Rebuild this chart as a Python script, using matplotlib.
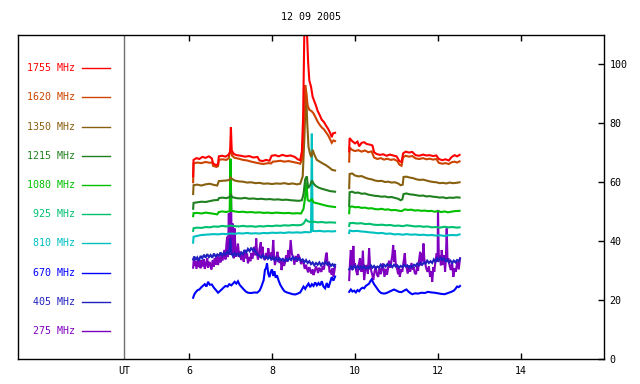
import matplotlib
matplotlib.use("Agg")
import matplotlib.pyplot as plt
import numpy as np

# ── data: (UT hour, flux) ────────────────────────────────────────────────────
LABELS = ["1755 MHz", "1620 MHz", "1350 MHz", "1215 MHz", "1080 MHz",
          "925 MHz", "810 MHz", "670 MHz", "405 MHz", "275 MHz"]
COLORS = ["#ff0000", "#cc4400", "#886010", "#208020", "#00c000",
          "#00c070", "#00c0c0", "#0000ff", "#2020c0", "#8000c0"]

F1755 = [(6.10, 62.0), (6.11, 67.6), (6.18, 68.2), (6.25, 67.9), (6.32, 68.6), (6.40, 68.3),
         (6.48, 68.8), (6.55, 68.1), (6.58, 66.4), (6.65, 65.8), (6.70, 66.2), (6.72, 68.8),
         (6.80, 69.0), (6.88, 68.7), (6.95, 69.3), (6.99, 70.2), (7.01, 78.7), (7.03, 70.8),
         (7.08, 69.6), (7.15, 69.2), (7.25, 69.0), (7.35, 68.7), (7.45, 68.9), (7.55, 68.4),
         (7.65, 68.6), (7.70, 67.4), (7.78, 67.2), (7.86, 67.6), (7.94, 67.3), (7.99, 69.0),
         (8.08, 69.2), (8.16, 68.8), (8.25, 69.3), (8.35, 68.9), (8.45, 69.1), (8.55, 68.6),
         (8.62, 67.8), (8.68, 67.5), (8.72, 70.5), (8.75, 82.0), (8.78, 112.0), (8.84, 112.0),
         (8.87, 101.0), (8.90, 94.5), (8.94, 92.5), (8.98, 89.0), (9.02, 87.5), (9.06, 86.0),
         (9.10, 84.2), (9.15, 82.8), (9.20, 81.2), (9.25, 80.5), (9.30, 79.3), (9.35, 78.2),
         (9.40, 76.8), (9.44, 75.3), (9.47, 76.6), (9.52, 76.8),
         (9.86, 70.5), (9.87, 75.0), (9.93, 74.0), (10.00, 73.2), (10.06, 73.8), (10.10, 72.2),
         (10.16, 73.4), (10.22, 73.6), (10.28, 73.0), (10.35, 72.8), (10.42, 72.5), (10.46, 70.2),
         (10.52, 69.6), (10.60, 69.3), (10.68, 69.5), (10.76, 69.0), (10.84, 69.4), (10.92, 69.1),
         (11.00, 68.8), (11.07, 67.2), (11.12, 66.8), (11.16, 69.8), (11.22, 70.4), (11.30, 70.1),
         (11.38, 70.3), (11.46, 69.2), (11.55, 69.0), (11.64, 69.4), (11.72, 69.1), (11.80, 69.2),
         (11.88, 68.9), (11.96, 69.1), (12.02, 67.9), (12.10, 67.5), (12.18, 67.8), (12.26, 67.4),
         (12.33, 68.6), (12.40, 69.2), (12.46, 68.8), (12.52, 69.3)]

F1620 = [(6.10, 60.0), (6.11, 66.4), (6.20, 66.7), (6.30, 66.5), (6.40, 66.9), (6.50, 66.6),
         (6.56, 66.8), (6.58, 65.6), (6.66, 65.2), (6.70, 65.5), (6.72, 67.6), (6.80, 67.8),
         (6.90, 67.6), (6.96, 68.2), (7.00, 71.6), (7.04, 69.0), (7.10, 68.3), (7.20, 68.0),
         (7.30, 67.6), (7.40, 67.4), (7.50, 67.0), (7.60, 66.7), (7.70, 66.4), (7.80, 66.2),
         (7.90, 66.5), (7.98, 66.4), (8.02, 67.0), (8.10, 67.1), (8.20, 67.3), (8.30, 67.0),
         (8.40, 67.2), (8.50, 66.9), (8.60, 66.6), (8.68, 66.3), (8.73, 68.0), (8.77, 80.0),
         (8.80, 93.0), (8.83, 90.0), (8.86, 86.0), (8.90, 84.6), (8.95, 84.2), (9.00, 83.4),
         (9.05, 82.0), (9.10, 80.6), (9.15, 79.5), (9.20, 78.6), (9.25, 78.0), (9.30, 77.0),
         (9.35, 76.0), (9.40, 74.6), (9.44, 73.4), (9.48, 74.2), (9.52, 74.0),
         (9.86, 67.0), (9.87, 71.8), (9.93, 71.0), (10.00, 70.6), (10.08, 70.9), (10.16, 70.4),
         (10.24, 70.8), (10.32, 70.2), (10.40, 70.5), (10.46, 68.4), (10.54, 67.9), (10.62, 68.2),
         (10.70, 67.7), (10.78, 68.0), (10.86, 67.6), (10.94, 67.8), (11.02, 67.2), (11.07, 66.0),
         (11.12, 65.6), (11.16, 68.5), (11.22, 69.0), (11.30, 68.7), (11.38, 68.9), (11.46, 68.1),
         (11.55, 67.9), (11.64, 68.2), (11.72, 67.8), (11.80, 68.0), (11.88, 67.7), (11.96, 67.9),
         (12.02, 66.6), (12.10, 66.3), (12.18, 66.5), (12.26, 66.2), (12.33, 66.8), (12.40, 67.0),
         (12.46, 66.7), (12.52, 67.1)]

F1350 = [(6.10, 56.0), (6.11, 59.0), (6.20, 59.2), (6.30, 58.9), (6.40, 59.3), (6.50, 59.5),
         (6.60, 59.1), (6.68, 58.9), (6.72, 60.4), (6.80, 60.5), (6.90, 60.6), (6.97, 60.8),
         (7.00, 61.6), (7.05, 61.0), (7.10, 60.6), (7.20, 60.3), (7.30, 60.2), (7.40, 59.9),
         (7.50, 60.0), (7.60, 59.7), (7.70, 59.8), (7.80, 59.5), (7.90, 59.6), (8.00, 59.4),
         (8.10, 59.6), (8.20, 59.5), (8.30, 59.7), (8.40, 59.4), (8.50, 59.6), (8.60, 59.3),
         (8.68, 59.5), (8.74, 62.0), (8.78, 75.0), (8.82, 91.0), (8.85, 80.0), (8.88, 72.0),
         (8.92, 69.5), (8.95, 68.6), (8.98, 71.0), (9.02, 69.4), (9.08, 67.6), (9.15, 67.0),
         (9.22, 66.4), (9.30, 65.8), (9.38, 65.0), (9.45, 64.2), (9.52, 64.0),
         (9.86, 58.0), (9.87, 62.8), (9.93, 63.0), (10.00, 62.3), (10.08, 62.0), (10.16, 62.1),
         (10.24, 61.6), (10.32, 61.2), (10.40, 61.0), (10.48, 60.6), (10.56, 60.4), (10.64, 60.5),
         (10.72, 60.1), (10.80, 60.2), (10.88, 59.9), (10.96, 60.0), (11.04, 59.6), (11.10, 59.0),
         (11.15, 59.2), (11.17, 61.8), (11.24, 61.9), (11.32, 61.6), (11.40, 61.4), (11.48, 61.0),
         (11.56, 60.8), (11.64, 60.9), (11.72, 60.6), (11.80, 60.3), (11.88, 60.1), (11.96, 60.0),
         (12.04, 59.7), (12.12, 59.8), (12.20, 59.6), (12.28, 59.9), (12.36, 59.7), (12.44, 59.8),
         (12.52, 60.0)]

F1215 = [(6.10, 51.0), (6.11, 53.0), (6.20, 53.2), (6.30, 53.4), (6.40, 53.3), (6.50, 53.6),
         (6.60, 53.9), (6.70, 54.0), (6.72, 54.6), (6.80, 54.8), (6.90, 54.6), (6.98, 55.0),
         (7.01, 55.6), (7.05, 54.9), (7.15, 54.6), (7.25, 54.5), (7.35, 54.7), (7.45, 54.4),
         (7.55, 54.5), (7.65, 54.3), (7.75, 54.4), (7.85, 54.2), (7.95, 54.3), (8.05, 54.1),
         (8.15, 54.2), (8.25, 54.0), (8.35, 54.1), (8.45, 53.9), (8.55, 53.8), (8.65, 53.7),
         (8.72, 53.9), (8.76, 56.0), (8.80, 61.0), (8.84, 62.0), (8.87, 58.0), (8.92, 59.0),
         (8.96, 60.6), (9.00, 59.6), (9.05, 58.8), (9.12, 58.2), (9.20, 57.8), (9.30, 57.4),
         (9.40, 57.0), (9.52, 56.8),
         (9.86, 52.0), (9.87, 56.6), (9.93, 56.8), (10.00, 56.4), (10.08, 56.5), (10.16, 56.1),
         (10.24, 56.2), (10.32, 55.8), (10.40, 55.6), (10.48, 55.4), (10.56, 55.3), (10.64, 55.1),
         (10.72, 55.2), (10.80, 54.9), (10.88, 55.0), (10.96, 54.7), (11.04, 54.4), (11.10, 53.9),
         (11.14, 54.2), (11.17, 56.0), (11.24, 56.2), (11.32, 55.9), (11.40, 55.8), (11.48, 55.6),
         (11.56, 55.4), (11.64, 55.5), (11.72, 55.2), (11.80, 55.3), (11.88, 55.1), (11.96, 55.0),
         (12.04, 54.8), (12.12, 54.9), (12.20, 54.6), (12.28, 54.8), (12.36, 54.7), (12.44, 54.9),
         (12.52, 54.8)]

F1080 = [(6.10, 48.5), (6.11, 49.5), (6.20, 49.6), (6.30, 49.4), (6.40, 49.7), (6.50, 49.5),
         (6.60, 49.3), (6.68, 49.1), (6.72, 49.9), (6.80, 50.1), (6.90, 49.9), (6.98, 50.2),
         (7.00, 68.0), (7.02, 50.4), (7.10, 50.1), (7.20, 49.9), (7.30, 50.0), (7.40, 49.8),
         (7.50, 49.9), (7.60, 49.7), (7.70, 49.8), (7.80, 49.6), (7.90, 49.7), (8.00, 49.5),
         (8.10, 49.7), (8.20, 49.6), (8.30, 49.5), (8.40, 49.6), (8.50, 49.4), (8.60, 49.5),
         (8.70, 49.4), (8.76, 51.0), (8.80, 55.0), (8.83, 60.0), (8.86, 54.0), (8.90, 53.6),
         (8.96, 54.2), (9.00, 53.2), (9.08, 52.9), (9.16, 52.6), (9.24, 52.3), (9.32, 52.0),
         (9.40, 51.8), (9.52, 51.6),
         (9.86, 49.5), (9.87, 51.6), (9.93, 51.8), (10.00, 51.5), (10.08, 51.6), (10.16, 51.3),
         (10.24, 51.4), (10.32, 51.1), (10.40, 51.2), (10.48, 50.9), (10.56, 50.8), (10.64, 51.0),
         (10.72, 50.7), (10.80, 50.8), (10.88, 50.5), (10.96, 50.6), (11.04, 50.4), (11.12, 50.2),
         (11.20, 50.8), (11.28, 50.6), (11.36, 50.7), (11.44, 50.4), (11.52, 50.5), (11.60, 50.3),
         (11.68, 50.4), (11.76, 50.2), (11.84, 50.3), (11.92, 50.0), (12.00, 50.2), (12.08, 49.9),
         (12.16, 50.1), (12.24, 49.8), (12.32, 50.0), (12.40, 50.2), (12.52, 50.3)]

F925 = [(6.10, 43.5), (6.11, 44.4), (6.20, 44.6), (6.30, 44.5), (6.40, 44.8), (6.50, 44.7),
        (6.60, 45.0), (6.70, 44.9), (6.80, 45.2), (6.90, 45.0), (7.00, 45.3), (7.10, 45.1),
        (7.20, 45.0), (7.30, 45.2), (7.40, 45.0), (7.50, 45.1), (7.60, 44.9), (7.70, 45.1),
        (7.80, 45.0), (7.90, 45.2), (8.00, 45.1), (8.10, 45.3), (8.20, 45.2), (8.30, 45.4),
        (8.40, 45.3), (8.50, 45.5), (8.60, 45.4), (8.70, 45.5), (8.76, 46.0), (8.82, 47.3),
        (8.86, 46.8), (8.92, 46.5), (9.00, 46.6), (9.10, 46.4), (9.20, 46.5), (9.30, 46.3),
        (9.40, 46.4), (9.52, 46.3),
        (9.86, 45.2), (9.87, 46.1), (9.95, 46.2), (10.05, 46.0), (10.15, 46.1), (10.25, 45.8),
        (10.35, 45.9), (10.45, 45.6), (10.55, 45.5), (10.65, 45.6), (10.75, 45.4), (10.85, 45.5),
        (10.95, 45.2), (11.05, 45.3), (11.15, 45.1), (11.25, 45.4), (11.35, 45.2), (11.45, 45.0),
        (11.55, 45.1), (11.65, 44.9), (11.75, 45.0), (11.85, 44.7), (11.95, 44.8), (12.05, 44.6),
        (12.15, 44.9), (12.25, 44.7), (12.35, 44.8), (12.45, 44.6), (12.52, 44.7)]

F810 = [(6.10, 39.5), (6.11, 41.5), (6.20, 41.8), (6.30, 42.1), (6.40, 42.2), (6.50, 42.3),
        (6.60, 42.4), (6.70, 42.3), (6.80, 42.5), (6.90, 42.4), (7.00, 42.6), (7.10, 42.5),
        (7.20, 42.7), (7.30, 42.6), (7.40, 42.8), (7.50, 42.6), (7.60, 42.7), (7.70, 42.6),
        (7.80, 42.8), (7.90, 42.7), (8.00, 42.9), (8.10, 42.8), (8.20, 42.9), (8.30, 42.8),
        (8.40, 43.0), (8.50, 42.9), (8.60, 43.0), (8.70, 42.9), (8.80, 43.1), (8.90, 43.0),
        (8.94, 43.2), (8.96, 76.5), (8.98, 43.5), (9.05, 43.4), (9.15, 43.5), (9.25, 43.3),
        (9.35, 43.4), (9.45, 43.3), (9.52, 43.4),
        (9.86, 42.8), (9.87, 43.6), (9.95, 43.4), (10.05, 43.5), (10.15, 43.3), (10.25, 43.2),
        (10.35, 43.0), (10.45, 42.9), (10.55, 42.7), (10.65, 42.8), (10.75, 42.5), (10.85, 42.6),
        (10.95, 42.3), (11.05, 42.4), (11.15, 42.2), (11.25, 42.4), (11.35, 42.2), (11.45, 42.3),
        (11.55, 42.1), (11.65, 42.2), (11.75, 42.0), (11.85, 42.1), (11.95, 41.9), (12.05, 42.0),
        (12.15, 41.8), (12.25, 42.0), (12.35, 42.1), (12.45, 42.0), (12.52, 42.3)]

F670 = [(6.10, 20.8), (6.13, 22.0), (6.17, 22.8), (6.21, 23.4), (6.25, 23.6), (6.30, 24.4),
        (6.34, 24.9), (6.38, 25.4), (6.42, 24.6), (6.46, 26.2), (6.50, 25.2), (6.55, 25.3),
        (6.60, 24.2), (6.65, 23.4), (6.70, 22.5), (6.74, 23.0), (6.78, 23.5), (6.83, 24.2),
        (6.88, 24.8), (6.93, 24.6), (6.97, 25.4), (7.02, 25.0), (7.06, 25.6), (7.10, 26.2),
        (7.14, 25.6), (7.18, 26.4), (7.22, 25.2), (7.27, 24.4), (7.32, 23.6), (7.37, 22.9),
        (7.42, 22.5), (7.50, 22.4), (7.58, 22.6), (7.64, 22.5), (7.70, 23.2), (7.74, 24.4),
        (7.77, 25.6), (7.80, 26.8), (7.83, 30.2), (7.86, 31.0), (7.88, 32.5), (7.91, 29.0),
        (7.94, 27.8), (7.97, 29.6), (8.00, 30.4), (8.03, 28.2), (8.06, 29.8), (8.09, 27.6),
        (8.12, 28.4), (8.16, 26.6), (8.20, 25.2), (8.25, 24.0), (8.30, 23.0), (8.36, 22.6),
        (8.43, 22.3), (8.50, 22.0), (8.56, 21.9), (8.62, 22.2), (8.68, 22.6), (8.72, 23.6),
        (8.76, 24.6), (8.80, 23.8), (8.84, 24.8), (8.88, 25.6), (8.92, 24.4), (8.96, 25.4),
        (9.00, 24.8), (9.04, 26.0), (9.08, 25.0), (9.12, 25.8), (9.16, 25.0), (9.20, 26.4),
        (9.24, 24.6), (9.28, 24.0), (9.32, 25.8), (9.36, 24.2), (9.40, 26.0), (9.44, 27.8),
        (9.48, 26.6), (9.52, 28.0),
        (9.86, 22.8), (9.90, 23.6), (9.94, 22.9), (9.98, 23.2), (10.02, 22.6), (10.06, 23.4),
        (10.10, 23.0), (10.14, 23.8), (10.18, 24.2), (10.22, 24.0), (10.26, 24.8), (10.30, 25.2),
        (10.34, 25.6), (10.37, 26.4), (10.40, 27.0), (10.43, 26.2), (10.46, 25.4), (10.50, 24.6),
        (10.54, 23.8), (10.58, 23.0), (10.63, 22.4), (10.70, 22.2), (10.76, 22.4), (10.82, 22.8),
        (10.88, 23.2), (10.94, 23.6), (11.00, 23.2), (11.06, 22.8), (11.12, 22.7), (11.18, 23.2),
        (11.24, 23.6), (11.28, 23.0), (11.33, 22.4), (11.38, 22.0), (11.45, 22.3), (11.52, 22.2),
        (11.60, 22.5), (11.68, 22.4), (11.76, 22.8), (11.84, 22.6), (11.92, 22.5), (12.00, 22.3),
        (12.08, 22.1), (12.16, 22.0), (12.24, 22.4), (12.32, 22.8), (12.38, 23.2), (12.42, 23.8),
        (12.46, 24.6), (12.50, 24.4), (12.53, 24.8)]

F405 = [(6.10, 33.8), (6.13, 34.8), (6.16, 33.6), (6.20, 34.5), (6.24, 33.4), (6.28, 35.0),
        (6.32, 34.2), (6.36, 35.4), (6.40, 34.4), (6.44, 35.6), (6.48, 34.6), (6.52, 35.3),
        (6.56, 34.4), (6.60, 35.8), (6.64, 34.8), (6.68, 35.5), (6.72, 35.0), (6.76, 36.2),
        (6.80, 35.2), (6.84, 36.0), (6.88, 35.4), (6.92, 36.4), (6.96, 35.6), (7.00, 41.0),
        (7.02, 35.8), (7.06, 35.0), (7.10, 36.0), (7.14, 35.2), (7.18, 35.8), (7.22, 35.0),
        (7.26, 36.2), (7.30, 35.6), (7.34, 37.0), (7.38, 36.2), (7.42, 37.4), (7.46, 36.6),
        (7.50, 37.8), (7.54, 36.8), (7.58, 37.2), (7.62, 36.0), (7.66, 35.4), (7.70, 35.0),
        (7.74, 34.4), (7.78, 35.2), (7.82, 34.2), (7.86, 34.8), (7.90, 34.0), (7.94, 34.8),
        (7.98, 33.8), (8.02, 34.6), (8.06, 33.6), (8.10, 34.4), (8.14, 33.4), (8.18, 34.2),
        (8.22, 33.5), (8.26, 34.0), (8.30, 33.2), (8.34, 34.0), (8.38, 33.4), (8.42, 34.2),
        (8.46, 33.6), (8.50, 34.6), (8.54, 33.8), (8.58, 34.4), (8.62, 33.6), (8.66, 34.2),
        (8.70, 33.4), (8.74, 33.8), (8.78, 32.8), (8.82, 33.6), (8.86, 32.6), (8.90, 33.2),
        (8.94, 32.2), (8.98, 32.8), (9.02, 31.8), (9.06, 32.6), (9.10, 32.0), (9.14, 32.8),
        (9.18, 31.8), (9.22, 32.6), (9.26, 32.2), (9.30, 33.0), (9.34, 32.0), (9.38, 32.6),
        (9.42, 31.6), (9.46, 32.2), (9.50, 31.4), (9.52, 32.0),
        (9.86, 30.4), (9.90, 31.4), (9.94, 30.6), (9.98, 31.6), (10.02, 30.8), (10.06, 31.5),
        (10.10, 30.6), (10.14, 31.4), (10.18, 30.8), (10.22, 31.6), (10.26, 30.6), (10.30, 31.2),
        (10.34, 30.8), (10.38, 31.8), (10.42, 31.0), (10.46, 31.6), (10.50, 30.8), (10.54, 31.4),
        (10.58, 31.0), (10.62, 32.0), (10.66, 31.2), (10.70, 32.0), (10.74, 31.4), (10.78, 32.2),
        (10.82, 31.6), (10.86, 32.0), (10.90, 31.2), (10.94, 32.0), (10.98, 31.4), (11.02, 31.8),
        (11.06, 31.0), (11.10, 31.6), (11.14, 31.2), (11.18, 32.0), (11.22, 31.4), (11.26, 31.8),
        (11.30, 31.0), (11.34, 31.6), (11.38, 31.2), (11.42, 32.0), (11.46, 31.6), (11.50, 32.4),
        (11.54, 31.8), (11.58, 32.6), (11.62, 32.0), (11.66, 32.8), (11.70, 32.4), (11.74, 33.4),
        (11.78, 32.6), (11.82, 33.2), (11.86, 32.6), (11.90, 33.8), (11.94, 33.0), (11.98, 34.2),
        (12.02, 33.4), (12.06, 34.6), (12.10, 33.6), (12.14, 34.2), (12.18, 33.2), (12.22, 33.8),
        (12.26, 32.8), (12.30, 33.4), (12.34, 32.6), (12.38, 33.4), (12.42, 32.8), (12.46, 33.6),
        (12.50, 33.2), (12.53, 34.0)]

F275 = [(6.10, 31.0), (6.12, 34.7), (6.14, 31.6), (6.16, 33.2), (6.18, 30.6), (6.20, 32.4),
        (6.22, 34.0), (6.24, 31.2), (6.26, 33.4), (6.28, 30.8), (6.30, 33.6), (6.33, 31.4),
        (6.36, 33.8), (6.38, 30.6), (6.41, 32.2), (6.44, 34.2), (6.46, 31.0), (6.49, 33.0),
        (6.52, 31.8), (6.54, 30.4), (6.57, 33.6), (6.60, 31.4), (6.62, 34.2), (6.65, 32.0),
        (6.68, 35.0), (6.70, 31.9), (6.73, 34.6), (6.76, 32.8), (6.78, 35.3), (6.81, 33.4),
        (6.84, 36.2), (6.86, 37.0), (6.88, 33.8), (6.90, 38.6), (6.92, 41.5), (6.94, 34.6),
        (6.96, 49.4), (6.98, 35.4), (6.99, 44.0), (7.01, 59.7), (7.03, 36.2), (7.05, 46.0),
        (7.06, 36.0), (7.08, 34.2), (7.10, 44.3), (7.12, 36.4), (7.14, 34.7), (7.16, 37.0),
        (7.18, 39.2), (7.21, 34.6), (7.24, 36.4), (7.26, 33.6), (7.29, 35.8), (7.32, 33.0),
        (7.34, 37.0), (7.37, 34.2), (7.40, 35.8), (7.42, 32.5), (7.45, 34.6), (7.48, 33.2),
        (7.50, 36.0), (7.53, 34.0), (7.56, 36.8), (7.58, 38.1), (7.60, 35.2), (7.62, 40.9),
        (7.64, 36.0), (7.66, 33.8), (7.68, 34.7), (7.70, 37.4), (7.73, 39.6), (7.75, 35.0),
        (7.77, 38.1), (7.80, 34.2), (7.83, 33.6), (7.86, 36.0), (7.89, 34.0), (7.91, 37.6),
        (7.94, 34.8), (7.97, 36.1), (8.00, 33.6), (8.03, 40.4), (8.05, 35.0), (8.07, 31.9),
        (8.10, 33.8), (8.13, 36.4), (8.15, 34.7), (8.18, 32.6), (8.21, 34.0), (8.23, 30.2),
        (8.26, 33.4), (8.29, 31.6), (8.31, 32.5), (8.34, 35.2), (8.37, 33.0), (8.39, 37.0),
        (8.42, 34.4), (8.45, 40.4), (8.48, 35.6), (8.51, 34.7), (8.54, 32.0), (8.57, 35.0),
        (8.60, 33.0), (8.63, 35.6), (8.67, 34.2), (8.70, 32.2), (8.73, 33.8), (8.76, 32.5),
        (8.79, 30.6), (8.82, 32.0), (8.84, 30.8), (8.87, 29.4), (8.90, 31.2), (8.92, 30.2),
        (8.95, 29.0), (8.98, 30.4), (9.00, 28.5), (9.03, 29.8), (9.06, 31.4), (9.08, 30.8),
        (9.11, 29.2), (9.14, 31.0), (9.16, 30.2), (9.19, 29.6), (9.22, 31.6), (9.25, 30.4),
        (9.28, 33.4), (9.30, 35.2), (9.32, 36.1), (9.34, 31.8), (9.36, 33.0), (9.39, 29.4),
        (9.41, 30.2), (9.44, 28.6), (9.46, 30.8), (9.48, 27.9), (9.50, 29.6), (9.52, 31.3),
        (9.86, 26.8), (9.88, 33.0), (9.90, 37.0), (9.92, 31.0), (9.94, 30.2), (9.96, 38.4),
        (9.98, 31.4), (10.00, 32.5), (10.03, 29.8), (10.06, 28.5), (10.09, 32.0), (10.12, 34.2),
        (10.14, 30.4), (10.16, 29.6), (10.19, 36.8), (10.22, 26.8), (10.25, 30.6), (10.28, 31.9),
        (10.31, 29.0), (10.34, 37.6), (10.36, 32.4), (10.39, 30.0), (10.42, 28.4), (10.44, 26.8),
        (10.47, 29.6), (10.50, 31.3), (10.53, 28.6), (10.56, 27.9), (10.59, 31.0), (10.62, 28.8),
        (10.64, 30.2), (10.67, 32.4), (10.71, 27.9), (10.74, 30.6), (10.77, 28.6), (10.79, 30.2),
        (10.82, 33.4), (10.85, 31.0), (10.87, 32.5), (10.90, 35.4), (10.92, 38.7), (10.94, 33.0),
        (10.96, 37.0), (10.98, 32.6), (11.01, 30.8), (11.04, 28.8), (11.06, 31.2), (11.08, 27.9),
        (11.11, 30.4), (11.14, 29.6), (11.17, 33.0), (11.20, 35.9), (11.22, 32.0), (11.24, 31.3),
        (11.27, 29.0), (11.30, 31.8), (11.33, 29.6), (11.36, 32.6), (11.39, 30.4), (11.41, 31.3),
        (11.44, 29.2), (11.47, 28.8), (11.50, 31.6), (11.52, 30.0), (11.54, 33.0), (11.57, 36.4),
        (11.59, 31.8), (11.61, 35.9), (11.63, 33.2), (11.65, 39.2), (11.67, 34.0), (11.69, 32.5),
        (11.72, 30.6), (11.75, 29.6), (11.78, 31.4), (11.81, 27.9), (11.84, 29.8), (11.86, 26.2),
        (11.89, 31.2), (11.91, 29.6), (11.94, 33.4), (11.97, 35.9), (11.99, 33.0), (12.00, 50.6),
        (12.02, 34.6), (12.05, 35.0), (12.07, 31.8), (12.09, 37.0), (12.11, 33.6), (12.13, 31.9),
        (12.15, 35.2), (12.17, 29.6), (12.19, 33.8), (12.21, 44.3), (12.23, 33.0), (12.25, 34.2),
        (12.28, 31.6), (12.31, 30.2), (12.34, 32.8), (12.37, 27.9), (12.40, 30.8), (12.43, 29.6),
        (12.45, 31.8), (12.47, 33.0), (12.50, 30.4), (12.53, 34.2)]

SERIES = [F1755, F1620, F1350, F1215, F1080, F925, F810, F670, F405, F275]

UT_LINE = 4.44
X_TICKS = [6, 8, 10, 12, 14]
Y_TICKS = [0, 20, 40, 60, 80, 100]

# ── plot ─────────────────────────────────────────────────────────────────────
plt.rcParams["font.family"] = "DejaVu Sans Mono"
FS = 7.2

fig = plt.figure(figsize=(6.4, 3.84), dpi=100)
ax = fig.add_axes([18 / 640, 25 / 384, 586 / 640, 324 / 384])

# lowest frequency first so the 1755 MHz trace ends on top
for pts, col in reversed(list(zip(SERIES, COLORS))):
    arr = np.array(pts, dtype=float)
    t, v = arr[:, 0], arr[:, 1]
    # break the trace at the data gap
    cut = np.where(np.diff(t) > 0.2)[0] + 1
    for ts, vs in zip(np.split(t, cut), np.split(v, cut)):
        ax.plot(ts, vs, color=col, lw=1.5, solid_joinstyle="miter")

# legend block on the left
for i, (lab, col) in enumerate(zip(LABELS, COLORS)):
    y = 98.7 - 9.91 * i
    ax.text(3.25, y, lab, color=col, fontsize=FS, ha="right", va="center")
    ax.plot([3.42, 4.10], [y, y], color=col, lw=1.0)

ax.axvline(UT_LINE, color="#707070", lw=1.0)
ax.text(UT_LINE, -0.022, "UT", transform=ax.get_xaxis_transform(),
        ha="center", va="top", fontsize=FS)

ax.set_xlim(1.88, 16.0)
ax.set_ylim(0, 110)
ax.set_xticks(X_TICKS)
ax.set_yticks(Y_TICKS)
ax.yaxis.tick_right()
ax.tick_params(axis="x", direction="in", top=True, length=4, width=1,
               labelsize=FS, pad=5)
ax.tick_params(axis="y", direction="in", left=False, right=True, length=4,
               width=1, labelsize=FS, pad=4)
for sp in ax.spines.values():
    sp.set_linewidth(1.0)

ax.set_title("12 09 2005", fontsize=FS, pad=11)

fig.savefig("out.png", dpi=100)
